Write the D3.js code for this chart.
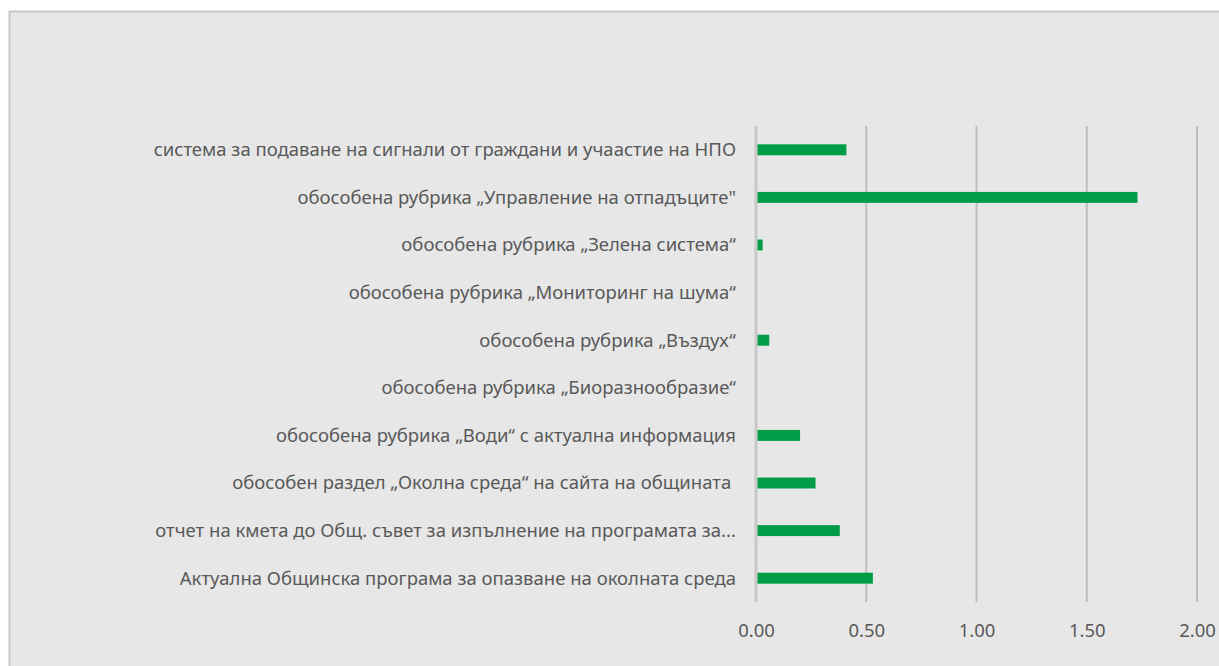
<!DOCTYPE html>
<html>
<head>
<meta charset="utf-8">
<script src="https://cdn.jsdelivr.net/npm/d3@7"></script>
<style>
  body { margin: 0; background: #fff; }
  text { font-family: "Noto Sans", sans-serif; fill: #595959; }
</style>
</head>
<body>
<div id="chart"></div>
<script>
(function () {

  // categories listed top to bottom as they appear
  const categories = [
    "система за подаване на сигнали от граждани и учаастие на НПО",
    "обособена рубрика „Управление на отпадъците\"",
    "обособена рубрика „Зелена система“",
    "обособена рубрика „Мониторинг на шума“",
    "обособена рубрика „Въздух“",
    "обособена рубрика „Биоразнообразие“",
    "обособена рубрика „Води“ с актуална информация",
    "обособен раздел „Околна среда“ на сайта на общината ",
    "отчет на кмета до Общ. съвет за изпълнение на програмата за...",
    "Актуална Общинска програма за опазване на околната среда"
  ]
  const values = [0.41, 1.73, 0.03, 0, 0.06, 0, 0.20, 0.27, 0.38, 0.53]
  const xTicks = [0, 0.5, 1, 1.5, 2]

  const W = 1219, H = 666
  const margin = { top: 126, left: 756, right: 22, bottom: 64 }
  const height = H - margin.top - margin.bottom

  const root = d3.select("#chart").append("svg")
    .attr("width", W)
    .attr("height", H)

  // grey chart panel
  root.append("rect")
    .attr("x", 9.5).attr("y", 11.5)
    .attr("width", W).attr("height", H)
    .attr("fill", "#e7e7e7")
    .attr("stroke", "#c8c8c8")
    .attr("stroke-width", 2)

  const svg = root.append("g")
    .attr("transform", "translate(" + margin.left + "," + margin.top + ")")

  const xPositionScale = d3.scaleLinear()
    .domain([0, 2])
    .range([0, 441])

  const yPositionScale = d3.scaleBand()
    .domain(categories)
    .range([0, height])
    .paddingInner(0.77)
    .paddingOuter(0.385)

  // gridlines
  svg.selectAll(".grid")
    .data(xTicks)
    .join("line")
    .attr("class", "grid")
    .attr("x1", d => xPositionScale(d))
    .attr("x2", d => xPositionScale(d))
    .attr("y1", 0)
    .attr("y2", height)
    .attr("stroke", d => d === 0 ? "#c8c8c8" : "#bdbdbd")
    .attr("stroke-width", d => d === 0 ? 3 : 2)

  const data = categories.map((c, i) => ({ name: c, value: values[i] }))

  svg.selectAll(".bar")
    .data(data.filter(d => d.value > 0))
    .join("rect")
    .attr("class", "bar")
    .attr("x", 1.5)
    .attr("y", d => yPositionScale(d.name))
    .attr("width", d => xPositionScale(d.value) - 1.5)
    .attr("height", yPositionScale.bandwidth())
    .attr("fill", "#009d46")

  // category labels
  svg.selectAll(".cat")
    .data(categories)
    .join("text")
    .attr("class", "cat")
    .attr("x", -20)
    .attr("y", d => yPositionScale(d) + yPositionScale.bandwidth() / 2)
    .attr("dy", "0.35em")
    .attr("text-anchor", "end")
    .style("white-space", "pre")
    .attr("font-size", 18.5)
    .text(d => d)

  // x tick labels
  const xAxis = d3.axisBottom(xPositionScale)
    .tickValues(xTicks)
    .tickFormat(d3.format(".2f"))
    .tickSize(0)
    .tickPadding(22)
  svg.append("g")
    .attr("class", "axis x-axis")
    .attr("transform", "translate(0," + height + ")")
    .call(xAxis)
    .call(g => g.select(".domain").remove())
    .call(g => g.selectAll("text")
      .attr("font-size", 18.5)
      .attr("fill", "#595959")
      .style("font-family", "\"Noto Sans\", sans-serif"))

})();
</script>
</body>
</html>
